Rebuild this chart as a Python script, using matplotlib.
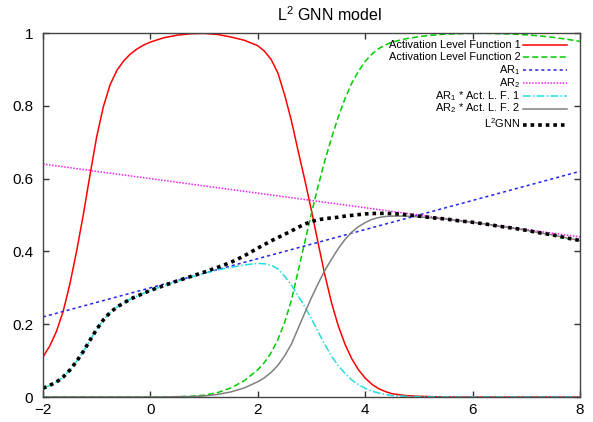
import matplotlib.pyplot as plt
import matplotlib as mpl

mpl.rcParams['font.family'] = ['Liberation Sans', 'DejaVu Sans']
mpl.rcParams['mathtext.default'] = 'regular'

# x grid for the curves (finer where they bend fast)
x = [-2.0, -1.875, -1.75, -1.625, -1.5, -1.375, -1.25, -1.125, -1.0, -0.875,
     -0.75, -0.625, -0.5, -0.375, -0.25, -0.125, 0.0,
     0.25, 0.5, 0.75, 1.0, 1.25, 1.5, 1.75,
     2.0, 2.125, 2.25, 2.375, 2.5, 2.625, 2.75, 2.875, 3.0, 3.125,
     3.25, 3.375, 3.5, 3.625, 3.75, 3.875, 4.0, 4.125, 4.25, 4.375, 4.5,
     4.75, 5.0, 5.25, 5.5, 5.75, 6.0, 6.25, 6.5, 6.75, 7.0, 7.25, 7.5, 7.75, 8.0]

act1 = [0.110, 0.140, 0.180, 0.235, 0.310, 0.400, 0.500, 0.610, 0.715, 0.798,
        0.858, 0.897, 0.923, 0.942, 0.956, 0.967, 0.975,
        0.987, 0.994, 0.998, 0.999, 0.996, 0.989, 0.980,
        0.965, 0.950, 0.927, 0.890, 0.830, 0.760, 0.677, 0.597, 0.512, 0.422,
        0.335, 0.258, 0.195, 0.145, 0.105, 0.075, 0.052, 0.035, 0.023, 0.015, 0.009,
        0.004, 0.002, 0.001, 0, 0, 0, 0, 0, 0, 0, 0, 0, 0, 0]

act2 = [0, 0, 0, 0, 0, 0, 0, 0, 0, 0,
        0, 0, 0, 0, 0, 0, 0,
        0, 0.001, 0.002, 0.005, 0.012, 0.025, 0.045,
        0.075, 0.095, 0.122, 0.158, 0.205, 0.265, 0.345, 0.425, 0.505, 0.580,
        0.650, 0.712, 0.770, 0.820, 0.862, 0.895, 0.922, 0.942, 0.957, 0.967, 0.975,
        0.984, 0.990, 0.994, 0.997, 0.998, 0.999, 0.999, 0.998, 0.997, 0.995,
        0.992, 0.988, 0.983, 0.977]

# AR lines are straight: end points
ar_x = [-2, 8]
ar1 = [0.22, 0.62]
ar2 = [0.64, 0.44]

ar1_act1 = [0.024, 0.032, 0.041, 0.055, 0.074, 0.098, 0.125, 0.156, 0.186, 0.212,
            0.232, 0.247, 0.258, 0.269, 0.277, 0.285, 0.293,
            0.306, 0.318, 0.329, 0.340, 0.349, 0.356, 0.363,
            0.367, 0.366, 0.362, 0.352, 0.332, 0.308, 0.278, 0.248, 0.215, 0.179,
            0.144, 0.112, 0.086, 0.065, 0.047, 0.034, 0.024, 0.016, 0.011, 0.007, 0.004,
            0.002, 0.001, 0.0005, 0, 0, 0, 0, 0, 0, 0, 0, 0, 0, 0]

ar2_act2 = [0, 0, 0, 0, 0, 0, 0, 0, 0, 0,
            0, 0, 0, 0, 0, 0, 0,
            0, 0.001, 0.001, 0.003, 0.007, 0.014, 0.025,
            0.042, 0.053, 0.068, 0.087, 0.113, 0.145, 0.188, 0.231, 0.273, 0.312,
            0.348, 0.379, 0.408, 0.433, 0.453, 0.468, 0.479, 0.488, 0.493, 0.496, 0.497,
            0.497, 0.495, 0.492, 0.489, 0.484, 0.480, 0.475, 0.469, 0.464, 0.458,
            0.451, 0.445, 0.437, 0.430]

l2gnn = [0.024, 0.032, 0.041, 0.055, 0.074, 0.098, 0.125, 0.156, 0.186, 0.212,
         0.232, 0.247, 0.258, 0.269, 0.277, 0.285, 0.293,
         0.306, 0.319, 0.331, 0.343, 0.356, 0.370, 0.388,
         0.409, 0.419, 0.429, 0.438, 0.447, 0.456, 0.466, 0.475, 0.482, 0.487,
         0.490, 0.492, 0.494, 0.497, 0.499, 0.501, 0.503, 0.504, 0.5045, 0.5045, 0.504,
         0.501, 0.497, 0.4925, 0.489, 0.484, 0.480, 0.475, 0.469, 0.464, 0.458,
         0.451, 0.445, 0.437, 0.430]

xticks = [-2, 0, 2, 4, 6, 8]
yticks = [0, 0.2, 0.4, 0.6, 0.8, 1]
ytick_labels = ['0', '0.2', '0.4', '0.6', '0.8', '1']

fig = plt.figure(figsize=(5.93, 4.22), dpi=100)
ax = fig.add_axes([0.0725, 0.0592, 0.9055, 0.8626])

series = [
    (x, act1, dict(color='#ff0000', lw=1.1), 'Activation Level Function 1'),
    (x, act2, dict(color='#00cc00', lw=1.1, ls=(0, (4, 2))), 'Activation Level Function 2'),
    (ar_x, ar1, dict(color='#2222ee', lw=1.1, ls=(0, (2, 2))), 'AR$_1$'),
    (ar_x, ar2, dict(color='#ee22ee', lw=1.1, ls=(0, (1, 1))), 'AR$_2$'),
    (x, ar1_act1, dict(color='#22dddd', lw=1.1, ls=(0, (5, 1.5, 1, 1.5))), 'AR$_1$ * Act. L. F. 1'),
    (x, ar2_act2, dict(color='#808080', lw=1.1), 'AR$_2$ * Act. L. F. 2'),
    (x, l2gnn, dict(color='black', lw=2.6, ls=(0, (1, 1.1))), 'L$^2$GNN'),
]

# gnuplot style key: right aligned text, sample line on the right, fixed row step
row0 = 1 - 11.5 / 364
row_step = 12.8 / 364
for i, (xs, ys, style, name) in enumerate(series):
    ax.plot(xs, ys, **style)
    yk = row0 - i * row_step
    if i == len(series) - 1:
        yk -= 4.0 / 364  # superscript row needs a little more room
    ax.plot([0.894, 0.976], [yk, yk], transform=ax.transAxes, clip_on=False, **style)
    ax.text(0.889, yk - 3.1 / 364, name, transform=ax.transAxes, ha='right',
            va='baseline', fontsize=7.9)

ax.set_xlim(-2, 8)
ax.set_ylim(0, 1)
ax.set_xticks(xticks)
ax.set_yticks(yticks, ytick_labels)
ax.tick_params(direction='in', length=4, width=1, color='#333333',
               top=True, right=True, labelsize=11)
ax.tick_params(axis='y', pad=7)
ax.tick_params(axis='x', pad=4)
for s in ax.spines.values():
    s.set_color('#444444')
    s.set_linewidth(1.0)

ax.set_title('L$^2$ GNN model', fontsize=11.5, x=0.533, pad=9)

plt.savefig('out.png', dpi=100)
